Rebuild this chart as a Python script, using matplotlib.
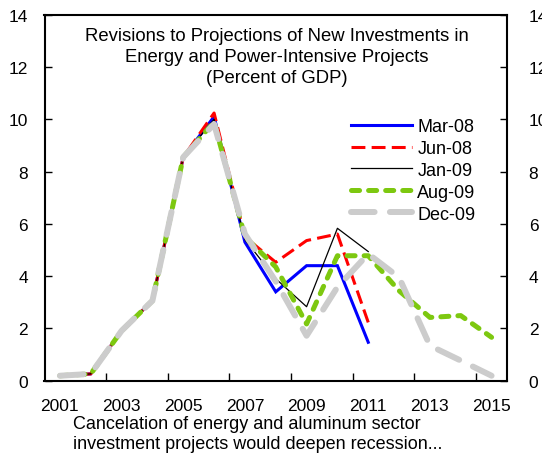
import matplotlib
matplotlib.use("Agg")
import matplotlib.pyplot as plt
import matplotlib.transforms as mtrans
import numpy as np

plt.rcParams["font.family"] = ["Liberation Sans", "DejaVu Sans"]
plt.rcParams["lines.scale_dashes"] = False

# años (categorías) y series
years = list(range(2001, 2016))
mar08 = [0.19, 0.26, 1.91, 3.06, 8.55, 10.1, 5.3, 3.40, 4.40, 4.40, 1.47]
jun08 = [0.19, 0.26, 1.91, 3.06, 8.55, 10.24, 5.5, 4.53, 5.36, 5.61, 2.23]
jan09 = [0.19, 0.26, 1.91, 3.06, 8.55, 10.0, 5.4, 3.90, 2.83, 5.83, 4.94]
aug09 = [0.19, 0.26, 1.91, 3.06, 8.55, 9.9, 5.5, 4.35, 2.17, 4.78, 4.78,
         3.44, 2.42, 2.49, 1.66]
dec09 = [0.19, 0.26, 1.91, 3.06, 8.55, 9.82, 5.61, 3.80, 1.72, 3.58, 4.85,
         3.95, 1.34, 0.77, 0.19]

fig = plt.figure(figsize=(5.42, 4.56), dpi=100)
ax = fig.add_axes([44.5 / 542, 1 - 381.7 / 456, 462.5 / 542, 366 / 456])

ax.plot(years[:len(mar08)], mar08, color="#0000FF", lw=2.2, label="Mar-08",
        solid_joinstyle="miter")
ax.plot(years[:len(jun08)], jun08, color="#FF0000", lw=2.2, dashes=(10, 4.5),
        label="Jun-08")
ax.plot(years[:len(jan09)], jan09, color="black", lw=0.9, label="Jan-09")
ax.plot(years[:len(aug09)], aug09, color="#7DC810", lw=3.6,
        dashes=(5.8, 6.5), dash_capstyle="round", label="Aug-09")
ax.plot(years[:len(dec09)], dec09, color="#CCCCCC", lw=4.3,
        dashes=(17, 11), dash_capstyle="round", label="Dec-09")

ax.set_xlim(2000.5, 2015.5)
ax.set_ylim(0, 14)
ax.set_yticks(range(0, 15, 2))
ax.set_xticks(years[::2])
ax.set_xticks(np.arange(2002.5, 2015, 2), minor=True)
ax.tick_params(axis="x", which="major", length=0, pad=12.5, labelsize=12.5)
ax.tick_params(axis="x", which="minor", length=6, direction="in", width=1)
ax.tick_params(axis="y", direction="in", length=5, width=1, pad=12,
               labelsize=12.5, right=True, labelright=True)
# etiquetas de la derecha un poco más afuera
shift = mtrans.ScaledTranslation(5 / 100, 0, fig.dpi_scale_trans)
for t in ax.yaxis.get_major_ticks():
    t.label2.set_transform(t.label2.get_transform() + shift)
for s in ax.spines.values():
    s.set_linewidth(1.5)

ax.text(0.503, 1 - 12 / 366, "Revisions to Projections of New Investments in\n"
        "Energy and Power-Intensive Projects\n(Percent of GDP)",
        transform=ax.transAxes, ha="center", va="top", fontsize=13.3,
        linespacing=1.32)

ax.legend(loc="upper left", bbox_to_anchor=(351 / 542, 1 - 119 / 456),
          bbox_transform=fig.transFigure, frameon=False, fontsize=13,
          handlelength=3.4, handletextpad=0.28, labelspacing=0.27,
          borderpad=0, borderaxespad=0)

fig.text(73 / 542, 1 - 416 / 456, "Cancelation of energy and aluminum sector\n"
         "investment projects would deepen recession...",
         ha="left", va="top", fontsize=13, linespacing=1.2)

fig.savefig("out.png", dpi=100)
